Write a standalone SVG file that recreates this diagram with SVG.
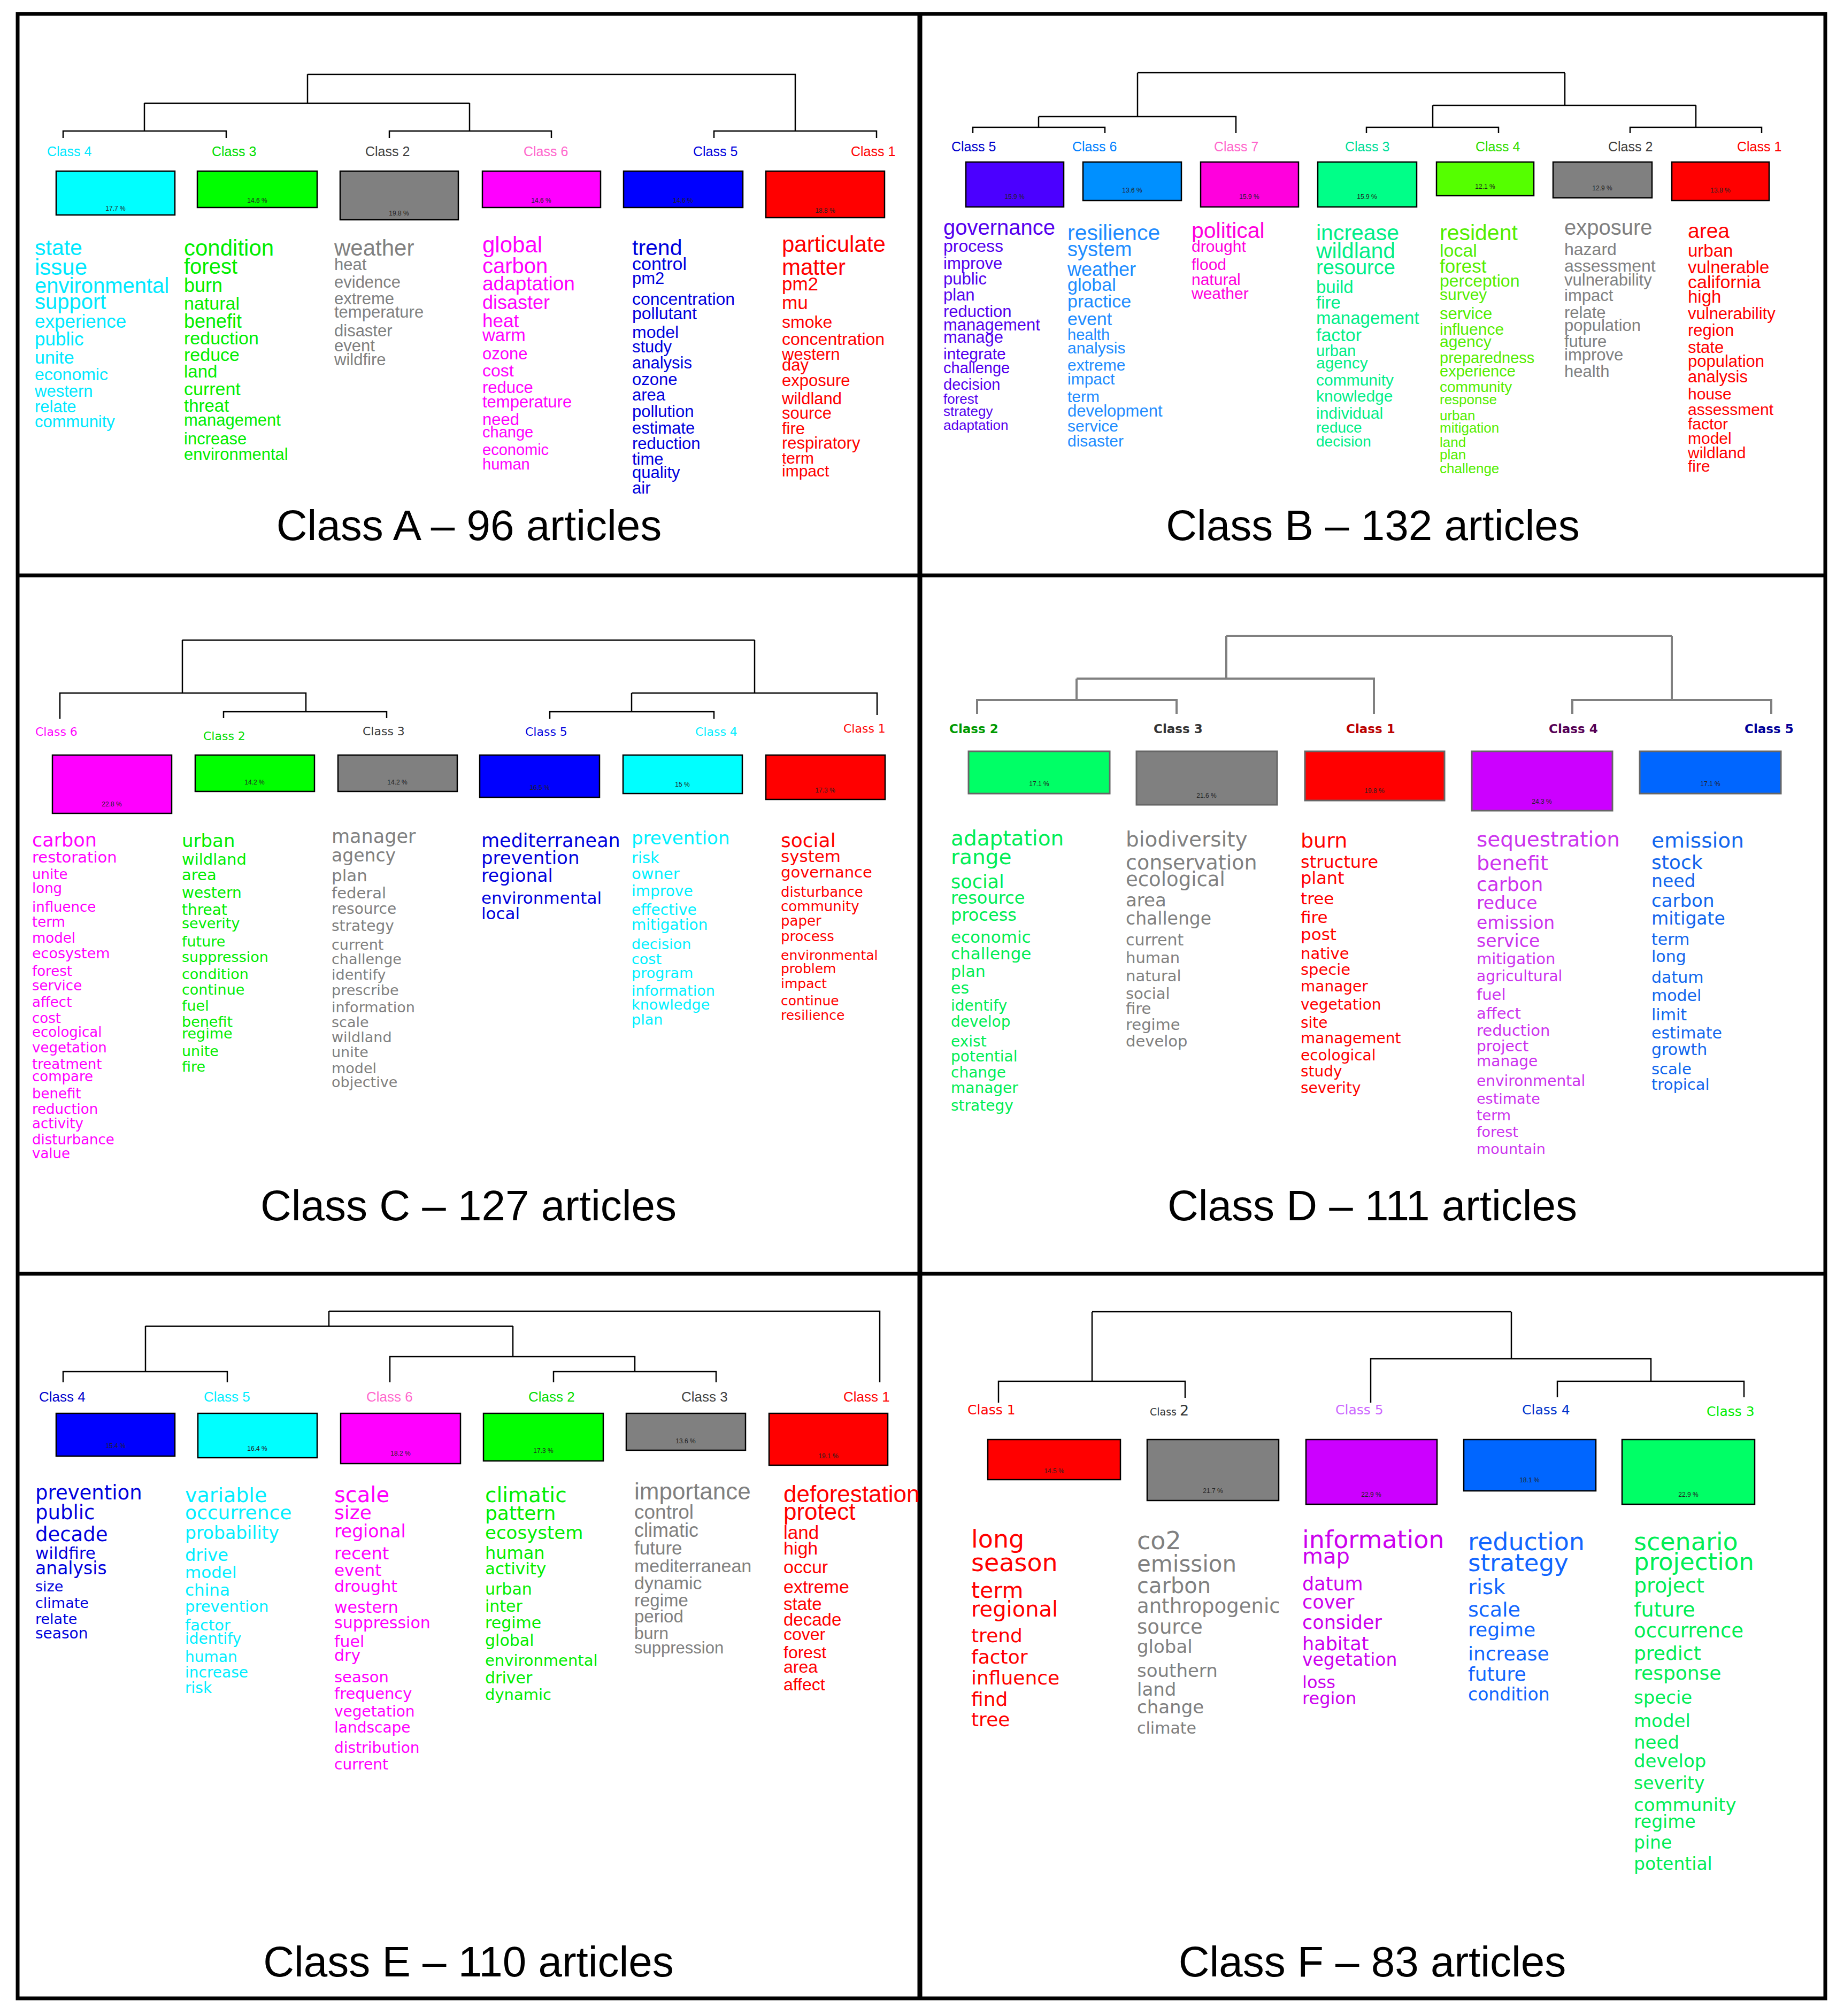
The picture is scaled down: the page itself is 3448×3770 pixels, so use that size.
<svg xmlns="http://www.w3.org/2000/svg" width="3448" height="3770" viewBox="0 0 3448 3770">
<style>
.a{font-family:"Liberation Sans",Arial,sans-serif}
.v{font-family:"DejaVu Sans",Verdana,sans-serif}
.vb{font-family:"DejaVu Sans",Verdana,sans-serif;font-weight:bold}
.ln{stroke:#000;stroke-width:2.5;fill:none}
.lnd{stroke:#808080;stroke-width:4;fill:none}
.bx{stroke:#000;stroke-width:2.5}
.bxd{stroke:#666;stroke-width:3}
.pct{font-family:"Liberation Sans",Arial,sans-serif;font-size:12px;fill:#222;text-anchor:middle}
.ttl{font-family:"Liberation Sans",Arial,sans-serif;font-size:80px;text-anchor:middle;fill:#000}
.lb{font-size:25px}
</style>
<rect width="3448" height="3770" fill="#fff"/>
<g id="frame" fill="none" stroke="#000" stroke-width="7">
<rect x="33" y="26" width="3380" height="3711"/>
<line x1="1720" y1="26" x2="1720" y2="3737" stroke-width="9"/>
<line x1="33" y1="1076" x2="3413" y2="1076"/>
<line x1="33" y1="2382" x2="3413" y2="2382"/>
</g>

<!-- ===== Panel A ===== -->
<g id="A-connectors" class="ln">
<path d="M575,139H1487V245M575,139V193M270,193H878M270,193V245M878,193V245M118,258V245H423V258M728,258V245H1031V258M1335,258V245H1639V258"/>
</g>
<g id="A-class4">
<text class="a lb" x="88" y="292" fill="#00E8FF">Class 4</text>
<rect class="bx" x="105" y="320" width="222" height="82" fill="#00FFFF"/>
<text class="pct" x="216" y="394">17.7 %</text>
<text class="a" fill="#00E8FF"><tspan x="65" y="477" font-size="41">state</tspan><tspan x="65" y="514" font-size="42">issue</tspan><tspan x="65" y="548" font-size="40">environmental</tspan><tspan x="65" y="578" font-size="40">support</tspan><tspan x="65" y="613" font-size="35">experience</tspan><tspan x="65" y="646" font-size="35">public</tspan><tspan x="65" y="680" font-size="34">unite</tspan><tspan x="65" y="711" font-size="32">economic</tspan><tspan x="65" y="742" font-size="31">western</tspan><tspan x="65" y="771" font-size="31">relate</tspan><tspan x="65" y="799" font-size="31">community</tspan></text>
</g>
<g id="A-class3">
<text class="a lb" x="396" y="292" fill="#00DD00">Class 3</text>
<rect class="bx" x="369" y="320" width="224" height="68" fill="#00FF00"/>
<text class="pct" x="481" y="379">14.6 %</text>
<text class="a" fill="#00EE00"><tspan x="344" y="478" font-size="42">condition</tspan><tspan x="344" y="512" font-size="40">forest</tspan><tspan x="344" y="546" font-size="36">burn</tspan><tspan x="344" y="579" font-size="34">natural</tspan><tspan x="344" y="613" font-size="36">benefit</tspan><tspan x="344" y="644" font-size="34">reduction</tspan><tspan x="344" y="675" font-size="34">reduce</tspan><tspan x="344" y="706" font-size="33">land</tspan><tspan x="344" y="739" font-size="34">current</tspan><tspan x="344" y="770" font-size="33">threat</tspan><tspan x="344" y="796" font-size="31">management</tspan><tspan x="344" y="831" font-size="31">increase</tspan><tspan x="344" y="860" font-size="31">environmental</tspan></text>
</g>
<g id="A-class2">
<text class="a lb" x="683" y="292" fill="#404040">Class 2</text>
<rect class="bx" x="636" y="320" width="221" height="91" fill="#808080"/>
<text class="pct" x="746" y="403">19.8 %</text>
<text class="a" fill="#808080"><tspan x="625" y="478" font-size="42">weather</tspan><tspan x="625" y="505" font-size="31">heat</tspan><tspan x="625" y="538" font-size="31">evidence</tspan><tspan x="625" y="569" font-size="31">extreme</tspan><tspan x="625" y="594" font-size="31">temperature</tspan><tspan x="625" y="629" font-size="31">disaster</tspan><tspan x="625" y="657" font-size="31">event</tspan><tspan x="625" y="683" font-size="31">wildfire</tspan></text>
</g>
<g id="A-class6">
<text class="a lb" x="979" y="292" fill="#FF66CC">Class 6</text>
<rect class="bx" x="902" y="320" width="221" height="68" fill="#FF00FF"/>
<text class="pct" x="1012" y="379">14.6 %</text>
<text class="a" fill="#FF00FF"><tspan x="902" y="472" font-size="42">global</tspan><tspan x="902" y="511" font-size="40">carbon</tspan><tspan x="902" y="543" font-size="37">adaptation</tspan><tspan x="902" y="578" font-size="36">disaster</tspan><tspan x="902" y="612" font-size="35">heat</tspan><tspan x="902" y="638" font-size="33">warm</tspan><tspan x="902" y="672" font-size="31">ozone</tspan><tspan x="902" y="704" font-size="32">cost</tspan><tspan x="902" y="735" font-size="31">reduce</tspan><tspan x="902" y="762" font-size="31">temperature</tspan><tspan x="902" y="795" font-size="31">need</tspan><tspan x="902" y="818" font-size="29">change</tspan><tspan x="902" y="851" font-size="29">economic</tspan><tspan x="902" y="878" font-size="29">human</tspan></text>
</g>
<g id="A-class5">
<text class="a lb" x="1296" y="292" fill="#0000DD">Class 5</text>
<rect class="bx" x="1166" y="320" width="223" height="68" fill="#0000FF"/>
<text class="pct" x="1277" y="379">14.6 %</text>
<text class="a" fill="#0000DD"><tspan x="1182" y="477" font-size="41">trend</tspan><tspan x="1182" y="505" font-size="34">control</tspan><tspan x="1182" y="531" font-size="31">pm2</tspan><tspan x="1182" y="570" font-size="32">concentration</tspan><tspan x="1182" y="597" font-size="32">pollutant</tspan><tspan x="1182" y="632" font-size="32">model</tspan><tspan x="1182" y="659" font-size="31">study</tspan><tspan x="1182" y="689" font-size="31">analysis</tspan><tspan x="1182" y="720" font-size="31">ozone</tspan><tspan x="1182" y="749" font-size="31">area</tspan><tspan x="1182" y="780" font-size="31">pollution</tspan><tspan x="1182" y="811" font-size="31">estimate</tspan><tspan x="1182" y="840" font-size="31">reduction</tspan><tspan x="1182" y="869" font-size="31">time</tspan><tspan x="1182" y="894" font-size="31">quality</tspan><tspan x="1182" y="923" font-size="31">air</tspan></text>
</g>
<g id="A-class1">
<text class="a lb" x="1591" y="292" fill="#FF0000">Class 1</text>
<rect class="bx" x="1432" y="320" width="222" height="87" fill="#FF0000"/>
<text class="pct" x="1543" y="398">18.8 %</text>
<text class="a" fill="#FF0000"><tspan x="1462" y="471" font-size="42">particulate</tspan><tspan x="1462" y="514" font-size="42">matter</tspan><tspan x="1462" y="543" font-size="35">pm2</tspan><tspan x="1462" y="578" font-size="35">mu</tspan><tspan x="1462" y="613" font-size="32">smoke</tspan><tspan x="1462" y="645" font-size="32">concentration</tspan><tspan x="1462" y="673" font-size="31">western</tspan><tspan x="1462" y="693" font-size="31">day</tspan><tspan x="1462" y="722" font-size="31">exposure</tspan><tspan x="1462" y="756" font-size="31">wildland</tspan><tspan x="1462" y="783" font-size="31">source</tspan><tspan x="1462" y="812" font-size="31">fire</tspan><tspan x="1462" y="839" font-size="31">respiratory</tspan><tspan x="1462" y="867" font-size="30">term</tspan><tspan x="1462" y="891" font-size="30">impact</tspan></text>
</g>
<text class="ttl" x="877" y="1010">Class A – 96 articles</text>

<!-- ===== Panel B ===== -->
<g id="B-connectors" class="ln">
<path d="M2127,136H2926M2127,136V218M1942,218H2311V249M1942,218V238M1819,249V238H2066V249M2926,136V197M2679,197H3171M2679,197V238M2555,249V238H2802V249M3171,197V238M3048,249V238H3294V249"/>
</g>
<g id="B-class5">
<text class="a lb" x="1779" y="283" fill="#0000CC">Class 5</text>
<rect class="bx" x="1806" y="303" width="183" height="84" fill="#4B00FF"/>
<text class="pct" x="1897" y="372">15.9 %</text>
<text class="a" fill="#5500EE"><tspan x="1764" y="439" font-size="40">governance</tspan><tspan x="1764" y="471" font-size="32">process</tspan><tspan x="1764" y="503" font-size="31">improve</tspan><tspan x="1764" y="532" font-size="31">public</tspan><tspan x="1764" y="562" font-size="31">plan</tspan><tspan x="1764" y="593" font-size="31">reduction</tspan><tspan x="1764" y="618" font-size="31">management</tspan><tspan x="1764" y="641" font-size="31">manage</tspan><tspan x="1764" y="672" font-size="30">integrate</tspan><tspan x="1764" y="698" font-size="29">challenge</tspan><tspan x="1764" y="729" font-size="29">decision</tspan><tspan x="1764" y="755" font-size="26">forest</tspan><tspan x="1764" y="778" font-size="26">strategy</tspan><tspan x="1764" y="804" font-size="26">adaptation</tspan></text>
</g>
<g id="B-class6">
<text class="a lb" x="2005" y="283" fill="#0080FF">Class 6</text>
<rect class="bx" x="2025" y="303" width="184" height="72" fill="#0090FF"/>
<text class="pct" x="2117" y="360">13.6 %</text>
<text class="a" fill="#1E8CFF"><tspan x="1996" y="449" font-size="41">resilience</tspan><tspan x="1996" y="479" font-size="38">system</tspan><tspan x="1996" y="516" font-size="36">weather</tspan><tspan x="1996" y="544" font-size="34">global</tspan><tspan x="1996" y="575" font-size="34">practice</tspan><tspan x="1996" y="608" font-size="34">event</tspan><tspan x="1996" y="636" font-size="29">health</tspan><tspan x="1996" y="661" font-size="30">analysis</tspan><tspan x="1996" y="693" font-size="30">extreme</tspan><tspan x="1996" y="719" font-size="30">impact</tspan><tspan x="1996" y="752" font-size="30">term</tspan><tspan x="1996" y="779" font-size="31">development</tspan><tspan x="1996" y="807" font-size="30">service</tspan><tspan x="1996" y="835" font-size="30">disaster</tspan></text>
</g>
<g id="B-class7">
<text class="a lb" x="2270" y="283" fill="#FF66CC">Class 7</text>
<rect class="bx" x="2245" y="303" width="183" height="84" fill="#FF00DD"/>
<text class="pct" x="2336" y="372">15.9 %</text>
<text class="a" fill="#FF00DD"><tspan x="2228" y="445" font-size="41">political</tspan><tspan x="2228" y="471" font-size="30">drought</tspan><tspan x="2228" y="505" font-size="30">flood</tspan><tspan x="2228" y="533" font-size="30">natural</tspan><tspan x="2228" y="559" font-size="30">weather</tspan></text>
</g>
<g id="B-class3">
<text class="a lb" x="2515" y="283" fill="#00DD99">Class 3</text>
<rect class="bx" x="2464" y="303" width="185" height="84" fill="#00FF88"/>
<text class="pct" x="2556" y="372">15.9 %</text>
<text class="a" fill="#00EE88"><tspan x="2461" y="449" font-size="41">increase</tspan><tspan x="2461" y="483" font-size="41">wildland</tspan><tspan x="2461" y="513" font-size="38">resource</tspan><tspan x="2461" y="548" font-size="33">build</tspan><tspan x="2461" y="577" font-size="33">fire</tspan><tspan x="2461" y="606" font-size="33">management</tspan><tspan x="2461" y="638" font-size="34">factor</tspan><tspan x="2461" y="666" font-size="29">urban</tspan><tspan x="2461" y="689" font-size="30">agency</tspan><tspan x="2461" y="721" font-size="30">community</tspan><tspan x="2461" y="751" font-size="30">knowledge</tspan><tspan x="2461" y="783" font-size="30">individual</tspan><tspan x="2461" y="809" font-size="28">reduce</tspan><tspan x="2461" y="835" font-size="28">decision</tspan></text>
</g>
<g id="B-class4">
<text class="a lb" x="2759" y="283" fill="#33DD00">Class 4</text>
<rect class="bx" x="2686" y="303" width="182" height="63" fill="#55FF00"/>
<text class="pct" x="2777" y="353">12.1 %</text>
<text class="a" fill="#55EE00"><tspan x="2692" y="449" font-size="41">resident</tspan><tspan x="2692" y="480" font-size="34">local</tspan><tspan x="2692" y="510" font-size="35">forest</tspan><tspan x="2692" y="536" font-size="32">perception</tspan><tspan x="2692" y="561" font-size="30">survey</tspan><tspan x="2692" y="597" font-size="31">service</tspan><tspan x="2692" y="626" font-size="30">influence</tspan><tspan x="2692" y="649" font-size="30">agency</tspan><tspan x="2692" y="679" font-size="29">preparedness</tspan><tspan x="2692" y="704" font-size="29">experience</tspan><tspan x="2692" y="733" font-size="28">community</tspan><tspan x="2692" y="756" font-size="26">response</tspan><tspan x="2692" y="786" font-size="26">urban</tspan><tspan x="2692" y="809" font-size="26">mitigation</tspan><tspan x="2692" y="836" font-size="26">land</tspan><tspan x="2692" y="859" font-size="26">plan</tspan><tspan x="2692" y="885" font-size="26">challenge</tspan></text>
</g>
<g id="B-class2">
<text class="a lb" x="3007" y="283" fill="#404040">Class 2</text>
<rect class="bx" x="2904" y="303" width="185" height="67" fill="#808080"/>
<text class="pct" x="2996" y="356">12.9 %</text>
<text class="a" fill="#808080"><tspan x="2925" y="439" font-size="40">exposure</tspan><tspan x="2925" y="477" font-size="32">hazard</tspan><tspan x="2925" y="508" font-size="32">assessment</tspan><tspan x="2925" y="534" font-size="31">vulnerability</tspan><tspan x="2925" y="563" font-size="31">impact</tspan><tspan x="2925" y="595" font-size="31">relate</tspan><tspan x="2925" y="619" font-size="31">population</tspan><tspan x="2925" y="649" font-size="31">future</tspan><tspan x="2925" y="674" font-size="31">improve</tspan><tspan x="2925" y="705" font-size="31">health</tspan></text>
</g>
<g id="B-class1">
<text class="a lb" x="3248" y="283" fill="#FF0000">Class 1</text>
<rect class="bx" x="3126" y="303" width="182" height="72" fill="#FF0000"/>
<text class="pct" x="3217" y="360">13.8 %</text>
<text class="a" fill="#FF0000"><tspan x="3156" y="445" font-size="39">area</tspan><tspan x="3156" y="480" font-size="33">urban</tspan><tspan x="3156" y="511" font-size="33">vulnerable</tspan><tspan x="3156" y="539" font-size="34">california</tspan><tspan x="3156" y="566" font-size="33">high</tspan><tspan x="3156" y="597" font-size="31">vulnerability</tspan><tspan x="3156" y="628" font-size="31">region</tspan><tspan x="3156" y="660" font-size="31">state</tspan><tspan x="3156" y="686" font-size="31">population</tspan><tspan x="3156" y="715" font-size="31">analysis</tspan><tspan x="3156" y="747" font-size="30">house</tspan><tspan x="3156" y="776" font-size="30">assessment</tspan><tspan x="3156" y="803" font-size="30">factor</tspan><tspan x="3156" y="830" font-size="30">model</tspan><tspan x="3156" y="857" font-size="30">wildland</tspan><tspan x="3156" y="882" font-size="30">fire</tspan></text>
</g>
<text class="ttl" x="2567" y="1010">Class B – 132 articles</text>

<!-- ===== Panel C ===== -->
<g id="C-connectors" class="ln">
<path d="M341,1197H1411M341,1197V1296M112,1344V1296H572V1331M418,1343V1331H723V1343M1411,1197V1296M1181,1296H1640V1337M1181,1296V1331M1028,1344V1331H1335V1344"/>
</g>
<g id="C-class6">
<text class="v" x="66" y="1376" font-size="22" fill="#FF00FF">Class 6</text>
<rect class="bx" x="98" y="1412" width="223" height="109" fill="#FF00FF"/>
<text class="pct" x="209" y="1508">22.8 %</text>
<text class="v" fill="#FF00FF"><tspan x="60" y="1583" font-size="35">carbon</tspan><tspan x="60" y="1613" font-size="29">restoration</tspan><tspan x="60" y="1644" font-size="26">unite</tspan><tspan x="60" y="1670" font-size="26">long</tspan><tspan x="60" y="1705" font-size="26">influence</tspan><tspan x="60" y="1733" font-size="26">term</tspan><tspan x="60" y="1763" font-size="26">model</tspan><tspan x="60" y="1792" font-size="27">ecosystem</tspan><tspan x="60" y="1825" font-size="26">forest</tspan><tspan x="60" y="1852" font-size="26">service</tspan><tspan x="60" y="1883" font-size="26">affect</tspan><tspan x="60" y="1913" font-size="26">cost</tspan><tspan x="60" y="1939" font-size="26">ecological</tspan><tspan x="60" y="1968" font-size="26">vegetation</tspan><tspan x="60" y="1999" font-size="26">treatment</tspan><tspan x="60" y="2022" font-size="26">compare</tspan><tspan x="60" y="2054" font-size="26">benefit</tspan><tspan x="60" y="2083" font-size="26">reduction</tspan><tspan x="60" y="2110" font-size="26">activity</tspan><tspan x="60" y="2140" font-size="26">disturbance</tspan><tspan x="60" y="2166" font-size="26">value</tspan></text>
</g>
<g id="C-class2">
<text class="v" x="380" y="1384" font-size="22" fill="#00DD00">Class 2</text>
<rect class="bx" x="365" y="1412" width="223" height="68" fill="#00FF00"/>
<text class="pct" x="476" y="1467">14.2 %</text>
<text class="v" fill="#00EE00"><tspan x="340" y="1584" font-size="34">urban</tspan><tspan x="340" y="1617" font-size="29">wildland</tspan><tspan x="340" y="1646" font-size="29">area</tspan><tspan x="340" y="1679" font-size="28">western</tspan><tspan x="340" y="1711" font-size="28">threat</tspan><tspan x="340" y="1736" font-size="27">severity</tspan><tspan x="340" y="1770" font-size="27">future</tspan><tspan x="340" y="1799" font-size="27">suppression</tspan><tspan x="340" y="1831" font-size="27">condition</tspan><tspan x="340" y="1860" font-size="27">continue</tspan><tspan x="340" y="1890" font-size="27">fuel</tspan><tspan x="340" y="1920" font-size="27">benefit</tspan><tspan x="340" y="1942" font-size="27">regime</tspan><tspan x="340" y="1975" font-size="27">unite</tspan><tspan x="340" y="2004" font-size="27">fire</tspan></text>
</g>
<g id="C-class3">
<text class="v" x="678" y="1375" font-size="22" fill="#404040">Class 3</text>
<rect class="bx" x="632" y="1412" width="223" height="68" fill="#808080"/>
<text class="pct" x="743" y="1467">14.2 %</text>
<text class="v" fill="#808080"><tspan x="620" y="1576" font-size="35">manager</tspan><tspan x="620" y="1611" font-size="33">agency</tspan><tspan x="620" y="1648" font-size="31">plan</tspan><tspan x="620" y="1680" font-size="29">federal</tspan><tspan x="620" y="1709" font-size="28">resource</tspan><tspan x="620" y="1741" font-size="28">strategy</tspan><tspan x="620" y="1776" font-size="27">current</tspan><tspan x="620" y="1803" font-size="27">challenge</tspan><tspan x="620" y="1832" font-size="27">identify</tspan><tspan x="620" y="1861" font-size="27">prescribe</tspan><tspan x="620" y="1893" font-size="27">information</tspan><tspan x="620" y="1921" font-size="27">scale</tspan><tspan x="620" y="1949" font-size="27">wildland</tspan><tspan x="620" y="1977" font-size="27">unite</tspan><tspan x="620" y="2007" font-size="27">model</tspan><tspan x="620" y="2033" font-size="27">objective</tspan></text>
</g>
<g id="C-class5">
<text class="v" x="982" y="1376" font-size="22" fill="#0000DD">Class 5</text>
<rect class="bx" x="897" y="1412" width="224" height="79" fill="#0000FF"/>
<text class="pct" x="1009" y="1477">16.5 %</text>
<text class="v" fill="#0000DD"><tspan x="900" y="1584" font-size="35">mediterranean</tspan><tspan x="900" y="1616" font-size="34">prevention</tspan><tspan x="900" y="1649" font-size="33">regional</tspan><tspan x="900" y="1690" font-size="31">environmental</tspan><tspan x="900" y="1719" font-size="31">local</tspan></text>
</g>
<g id="C-class4">
<text class="v" x="1300" y="1376" font-size="22" fill="#00EEFF">Class 4</text>
<rect class="bx" x="1165" y="1412" width="223" height="72" fill="#00FFFF"/>
<text class="pct" x="1276" y="1471">15 %</text>
<text class="v" fill="#00F0FF"><tspan x="1181" y="1579" font-size="34">prevention</tspan><tspan x="1181" y="1614" font-size="29">risk</tspan><tspan x="1181" y="1644" font-size="29">owner</tspan><tspan x="1181" y="1676" font-size="28">improve</tspan><tspan x="1181" y="1711" font-size="28">effective</tspan><tspan x="1181" y="1739" font-size="28">mitigation</tspan><tspan x="1181" y="1775" font-size="27">decision</tspan><tspan x="1181" y="1803" font-size="27">cost</tspan><tspan x="1181" y="1829" font-size="27">program</tspan><tspan x="1181" y="1862" font-size="27">information</tspan><tspan x="1181" y="1888" font-size="27">knowledge</tspan><tspan x="1181" y="1916" font-size="27">plan</tspan></text>
</g>
<g id="C-class1">
<text class="v" x="1577" y="1370" font-size="22" fill="#FF0000">Class 1</text>
<rect class="bx" x="1432" y="1412" width="223" height="83" fill="#FF0000"/>
<text class="pct" x="1543" y="1482">17.3 %</text>
<text class="v" fill="#FF0000"><tspan x="1460" y="1584" font-size="36">social</tspan><tspan x="1460" y="1612" font-size="31">system</tspan><tspan x="1460" y="1641" font-size="29">governance</tspan><tspan x="1460" y="1677" font-size="26">disturbance</tspan><tspan x="1460" y="1704" font-size="26">community</tspan><tspan x="1460" y="1731" font-size="26">paper</tspan><tspan x="1460" y="1760" font-size="26">process</tspan><tspan x="1460" y="1795" font-size="25">environmental</tspan><tspan x="1460" y="1820" font-size="25">problem</tspan><tspan x="1460" y="1848" font-size="25">impact</tspan><tspan x="1460" y="1880" font-size="25">continue</tspan><tspan x="1460" y="1907" font-size="25">resilience</tspan></text>
</g>
<text class="ttl" x="876" y="2282">Class C – 127 articles</text>

<!-- ===== Panel D ===== -->
<g id="D-connectors" class="lnd">
<path d="M2293,1189H3126M2293,1189V1269M2013,1269H2569V1335M2013,1269V1309M1827,1335V1309H2200V1335M3126,1189V1309M2940,1335V1309H3312V1335"/>
</g>
<g id="D-class2">
<text class="vb" x="1775" y="1371" font-size="23" fill="#009900">Class 2</text>
<rect class="bxd" x="1811" y="1405" width="264" height="79" fill="#00FF66"/>
<text class="pct" x="1943" y="1470">17.1 %</text>
<text class="v" fill="#00EE55"><tspan x="1778" y="1581" font-size="39">adaptation</tspan><tspan x="1778" y="1616" font-size="39">range</tspan><tspan x="1778" y="1661" font-size="35">social</tspan><tspan x="1778" y="1690" font-size="32">resource</tspan><tspan x="1778" y="1722" font-size="32">process</tspan><tspan x="1778" y="1763" font-size="31">economic</tspan><tspan x="1778" y="1794" font-size="31">challenge</tspan><tspan x="1778" y="1827" font-size="30">plan</tspan><tspan x="1778" y="1858" font-size="30">es</tspan><tspan x="1778" y="1890" font-size="28">identify</tspan><tspan x="1778" y="1920" font-size="28">develop</tspan><tspan x="1778" y="1957" font-size="28">exist</tspan><tspan x="1778" y="1985" font-size="28">potential</tspan><tspan x="1778" y="2015" font-size="28">change</tspan><tspan x="1778" y="2044" font-size="28">manager</tspan><tspan x="1778" y="2077" font-size="28">strategy</tspan></text>
</g>
<g id="D-class3">
<text class="vb" x="2157" y="1371" font-size="23" fill="#333333">Class 3</text>
<rect class="bxd" x="2125" y="1405" width="263" height="100" fill="#808080"/>
<text class="pct" x="2256" y="1492">21.6 %</text>
<text class="v" fill="#808080"><tspan x="2105" y="1583" font-size="39">biodiversity</tspan><tspan x="2105" y="1626" font-size="38">conservation</tspan><tspan x="2105" y="1657" font-size="37">ecological</tspan><tspan x="2105" y="1695" font-size="34">area</tspan><tspan x="2105" y="1729" font-size="33">challenge</tspan><tspan x="2105" y="1768" font-size="30">current</tspan><tspan x="2105" y="1801" font-size="29">human</tspan><tspan x="2105" y="1835" font-size="29">natural</tspan><tspan x="2105" y="1868" font-size="29">social</tspan><tspan x="2105" y="1896" font-size="29">fire</tspan><tspan x="2105" y="1926" font-size="29">regime</tspan><tspan x="2105" y="1957" font-size="29">develop</tspan></text>
</g>
<g id="D-class1">
<text class="vb" x="2517" y="1371" font-size="23" fill="#BB0000">Class 1</text>
<rect class="bxd" x="2440" y="1405" width="261" height="92" fill="#FF0000"/>
<text class="pct" x="2570" y="1483">19.8 %</text>
<text class="v" fill="#FF0000"><tspan x="2432" y="1585" font-size="38">burn</tspan><tspan x="2432" y="1623" font-size="32">structure</tspan><tspan x="2432" y="1653" font-size="32">plant</tspan><tspan x="2432" y="1691" font-size="31">tree</tspan><tspan x="2432" y="1726" font-size="31">fire</tspan><tspan x="2432" y="1758" font-size="31">post</tspan><tspan x="2432" y="1793" font-size="29">native</tspan><tspan x="2432" y="1823" font-size="29">specie</tspan><tspan x="2432" y="1854" font-size="28">manager</tspan><tspan x="2432" y="1888" font-size="28">vegetation</tspan><tspan x="2432" y="1922" font-size="28">site</tspan><tspan x="2432" y="1951" font-size="28">management</tspan><tspan x="2432" y="1983" font-size="28">ecological</tspan><tspan x="2432" y="2013" font-size="28">study</tspan><tspan x="2432" y="2044" font-size="28">severity</tspan></text>
</g>
<g id="D-class4">
<text class="vb" x="2896" y="1371" font-size="23" fill="#550055">Class 4</text>
<rect class="bxd" x="2752" y="1405" width="263" height="111" fill="#CC00FF"/>
<text class="pct" x="2883" y="1503">24.3 %</text>
<text class="v" fill="#CC33EE"><tspan x="2761" y="1583" font-size="39">sequestration</tspan><tspan x="2761" y="1627" font-size="38">benefit</tspan><tspan x="2761" y="1666" font-size="36">carbon</tspan><tspan x="2761" y="1700" font-size="33">reduce</tspan><tspan x="2761" y="1737" font-size="33">emission</tspan><tspan x="2761" y="1771" font-size="33">service</tspan><tspan x="2761" y="1803" font-size="29">mitigation</tspan><tspan x="2761" y="1835" font-size="28">agricultural</tspan><tspan x="2761" y="1870" font-size="29">fuel</tspan><tspan x="2761" y="1905" font-size="29">affect</tspan><tspan x="2761" y="1937" font-size="29">reduction</tspan><tspan x="2761" y="1966" font-size="28">project</tspan><tspan x="2761" y="1994" font-size="28">manage</tspan><tspan x="2761" y="2031" font-size="28">environmental</tspan><tspan x="2761" y="2064" font-size="27">estimate</tspan><tspan x="2761" y="2095" font-size="27">term</tspan><tspan x="2761" y="2126" font-size="27">forest</tspan><tspan x="2761" y="2158" font-size="27">mountain</tspan></text>
</g>
<g id="D-class5">
<text class="vb" x="3262" y="1371" font-size="23" fill="#000099">Class 5</text>
<rect class="bxd" x="3066" y="1405" width="264" height="79" fill="#0066FF"/>
<text class="pct" x="3198" y="1470">17.1 %</text>
<text class="v" fill="#1166EE"><tspan x="3088" y="1585" font-size="39">emission</tspan><tspan x="3088" y="1625" font-size="36">stock</tspan><tspan x="3088" y="1659" font-size="33">need</tspan><tspan x="3088" y="1696" font-size="34">carbon</tspan><tspan x="3088" y="1729" font-size="33">mitigate</tspan><tspan x="3088" y="1767" font-size="30">term</tspan><tspan x="3088" y="1799" font-size="30">long</tspan><tspan x="3088" y="1838" font-size="30">datum</tspan><tspan x="3088" y="1872" font-size="30">model</tspan><tspan x="3088" y="1908" font-size="30">limit</tspan><tspan x="3088" y="1942" font-size="30">estimate</tspan><tspan x="3088" y="1973" font-size="30">growth</tspan><tspan x="3088" y="2009" font-size="29">scale</tspan><tspan x="3088" y="2038" font-size="29">tropical</tspan></text>
</g>
<text class="ttl" x="2566" y="2282">Class D – 111 articles</text>

<!-- ===== Panel E ===== -->
<g id="E-connectors" class="ln">
<path d="M615,2452H1645V2585M615,2452V2480M272,2480H959M272,2480V2565M118,2585V2565H425V2585M959,2480V2537M729,2585V2537H1187V2565M1035,2585V2565H1339V2585"/>
</g>
<g id="E-class4">
<text class="a" x="73" y="2621" font-size="26" fill="#0000CC">Class 4</text>
<rect class="bx" x="105" y="2643" width="222" height="80" fill="#0000FF"/>
<text class="pct" x="216" y="2708">15.4 %</text>
<text class="v" fill="#0000DD"><tspan x="66" y="2804" font-size="37">prevention</tspan><tspan x="66" y="2841" font-size="37">public</tspan><tspan x="66" y="2882" font-size="37">decade</tspan><tspan x="66" y="2915" font-size="31">wildfire</tspan><tspan x="66" y="2944" font-size="33">analysis</tspan><tspan x="66" y="2976" font-size="27">size</tspan><tspan x="66" y="3007" font-size="27">climate</tspan><tspan x="66" y="3037" font-size="27">relate</tspan><tspan x="66" y="3064" font-size="28">season</tspan></text>
</g>
<g id="E-class5">
<text class="a" x="381" y="2621" font-size="26" fill="#00EEFF">Class 5</text>
<rect class="bx" x="370" y="2643" width="223" height="83" fill="#00FFFF"/>
<text class="pct" x="481" y="2713">16.4 %</text>
<text class="v" fill="#00EEFF"><tspan x="346" y="2809" font-size="38">variable</tspan><tspan x="346" y="2841" font-size="36">occurrence</tspan><tspan x="346" y="2878" font-size="33">probability</tspan><tspan x="346" y="2919" font-size="32">drive</tspan><tspan x="346" y="2951" font-size="31">model</tspan><tspan x="346" y="2984" font-size="31">china</tspan><tspan x="346" y="3014" font-size="29">prevention</tspan><tspan x="346" y="3049" font-size="29">factor</tspan><tspan x="346" y="3074" font-size="28">identify</tspan><tspan x="346" y="3108" font-size="28">human</tspan><tspan x="346" y="3137" font-size="28">increase</tspan><tspan x="346" y="3166" font-size="28">risk</tspan></text>
</g>
<g id="E-class6">
<text class="a" x="685" y="2621" font-size="26" fill="#FF66CC">Class 6</text>
<rect class="bx" x="637" y="2643" width="224" height="94" fill="#FF00FF"/>
<text class="pct" x="749" y="2722">18.2 %</text>
<text class="v" fill="#FF00FF"><tspan x="625" y="2809" font-size="40">scale</tspan><tspan x="625" y="2841" font-size="36">size</tspan><tspan x="625" y="2875" font-size="33">regional</tspan><tspan x="625" y="2916" font-size="32">recent</tspan><tspan x="625" y="2947" font-size="31">event</tspan><tspan x="625" y="2977" font-size="30">drought</tspan><tspan x="625" y="3016" font-size="30">western</tspan><tspan x="625" y="3045" font-size="30">suppression</tspan><tspan x="625" y="3080" font-size="30">fuel</tspan><tspan x="625" y="3106" font-size="30">dry</tspan><tspan x="625" y="3146" font-size="29">season</tspan><tspan x="625" y="3177" font-size="29">frequency</tspan><tspan x="625" y="3210" font-size="28">vegetation</tspan><tspan x="625" y="3240" font-size="28">landscape</tspan><tspan x="625" y="3278" font-size="28">distribution</tspan><tspan x="625" y="3309" font-size="28">current</tspan></text>
</g>
<g id="E-class2">
<text class="a" x="988" y="2621" font-size="26" fill="#00DD00">Class 2</text>
<rect class="bx" x="904" y="2643" width="224" height="89" fill="#00FF00"/>
<text class="pct" x="1016" y="2717">17.3 %</text>
<text class="v" fill="#00EE00"><tspan x="907" y="2809" font-size="39">climatic</tspan><tspan x="907" y="2842" font-size="36">pattern</tspan><tspan x="907" y="2878" font-size="34">ecosystem</tspan><tspan x="907" y="2915" font-size="32">human</tspan><tspan x="907" y="2944" font-size="31">activity</tspan><tspan x="907" y="2982" font-size="30">urban</tspan><tspan x="907" y="3014" font-size="30">inter</tspan><tspan x="907" y="3045" font-size="30">regime</tspan><tspan x="907" y="3078" font-size="30">global</tspan><tspan x="907" y="3115" font-size="29">environmental</tspan><tspan x="907" y="3148" font-size="30">driver</tspan><tspan x="907" y="3179" font-size="29">dynamic</tspan></text>
</g>
<g id="E-class3">
<text class="a" x="1274" y="2621" font-size="26" fill="#404040">Class 3</text>
<rect class="bx" x="1171" y="2643" width="223" height="69" fill="#808080"/>
<text class="pct" x="1282" y="2699">13.6 %</text>
<text class="a" fill="#808080"><tspan x="1186" y="2804" font-size="44">importance</tspan><tspan x="1186" y="2840" font-size="37">control</tspan><tspan x="1186" y="2874" font-size="36">climatic</tspan><tspan x="1186" y="2907" font-size="35">future</tspan><tspan x="1186" y="2940" font-size="34">mediterranean</tspan><tspan x="1186" y="2972" font-size="34">dynamic</tspan><tspan x="1186" y="3004" font-size="33">regime</tspan><tspan x="1186" y="3034" font-size="33">period</tspan><tspan x="1186" y="3065" font-size="32">burn</tspan><tspan x="1186" y="3092" font-size="31">suppression</tspan></text>
</g>
<g id="E-class1">
<text class="a" x="1577" y="2621" font-size="26" fill="#FF0000">Class 1</text>
<rect class="bx" x="1438" y="2643" width="222" height="97" fill="#FF0000"/>
<text class="pct" x="1549" y="2727">19.1 %</text>
<text class="a" fill="#FF0000"><tspan x="1465" y="2809" font-size="44">deforestation</tspan><tspan x="1465" y="2842" font-size="44">protect</tspan><tspan x="1465" y="2878" font-size="35">land</tspan><tspan x="1465" y="2907" font-size="34">high</tspan><tspan x="1465" y="2942" font-size="34">occur</tspan><tspan x="1465" y="2979" font-size="34">extreme</tspan><tspan x="1465" y="3011" font-size="33">state</tspan><tspan x="1465" y="3040" font-size="33">decade</tspan><tspan x="1465" y="3067" font-size="32">cover</tspan><tspan x="1465" y="3101" font-size="32">forest</tspan><tspan x="1465" y="3128" font-size="32">area</tspan><tspan x="1465" y="3161" font-size="32">affect</tspan></text>
</g>
<text class="ttl" x="876" y="3696">Class E – 110 articles</text>

<!-- ===== Panel F ===== -->
<g id="F-connectors" class="ln">
<path d="M2042,2453H2826M2042,2453V2583M1867,2623V2583H2216V2614M2826,2453V2541M2563,2623V2541H3087V2583M2912,2613V2583H3261V2613"/>
</g>
<g id="F-class1">
<text class="v" x="1809" y="2645" font-size="25" fill="#FF0000">Class 1</text>
<rect class="bx" x="1847" y="2692" width="248" height="75" fill="#FF0000"/>
<text class="pct" x="1971" y="2755">14.5 %</text>
<text class="v" fill="#FF0000"><tspan x="1816" y="2894" font-size="46">long</tspan><tspan x="1816" y="2938" font-size="46">season</tspan><tspan x="1816" y="2988" font-size="41">term</tspan><tspan x="1816" y="3023" font-size="40">regional</tspan><tspan x="1816" y="3071" font-size="36">trend</tspan><tspan x="1816" y="3111" font-size="36">factor</tspan><tspan x="1816" y="3150" font-size="36">influence</tspan><tspan x="1816" y="3190" font-size="36">find</tspan><tspan x="1816" y="3228" font-size="36">tree</tspan></text>
</g>
<g id="F-class2">
<text class="v" x="2150" y="2647" fill="#333333"><tspan font-size="19">Class </tspan><tspan font-size="27">2</tspan></text>
<rect class="bx" x="2145" y="2692" width="246" height="114" fill="#808080"/>
<text class="pct" x="2268" y="2792">21.7 %</text>
<text class="v" fill="#808080"><tspan x="2126" y="2897" font-size="46">co2</tspan><tspan x="2126" y="2939" font-size="42">emission</tspan><tspan x="2126" y="2979" font-size="40">carbon</tspan><tspan x="2126" y="3016" font-size="37">anthropogenic</tspan><tspan x="2126" y="3055" font-size="37">source</tspan><tspan x="2126" y="3091" font-size="34">global</tspan><tspan x="2126" y="3136" font-size="34">southern</tspan><tspan x="2126" y="3171" font-size="34">land</tspan><tspan x="2126" y="3204" font-size="34">change</tspan><tspan x="2126" y="3242" font-size="30">climate</tspan></text>
</g>
<g id="F-class5">
<text class="v" x="2497" y="2645" font-size="25" fill="#CC66FF">Class 5</text>
<rect class="bx" x="2442" y="2692" width="245" height="121" fill="#CC00FF"/>
<text class="pct" x="2564" y="2799">22.9 %</text>
<text class="v" fill="#CC00EE"><tspan x="2435" y="2895" font-size="46">information</tspan><tspan x="2435" y="2924" font-size="40">map</tspan><tspan x="2435" y="2974" font-size="35">datum</tspan><tspan x="2435" y="3008" font-size="35">cover</tspan><tspan x="2435" y="3046" font-size="35">consider</tspan><tspan x="2435" y="3086" font-size="35">habitat</tspan><tspan x="2435" y="3115" font-size="33">vegetation</tspan><tspan x="2435" y="3157" font-size="32">loss</tspan><tspan x="2435" y="3187" font-size="32">region</tspan></text>
</g>
<g id="F-class4">
<text class="v" x="2846" y="2645" font-size="25" fill="#0033CC">Class 4</text>
<rect class="bx" x="2737" y="2692" width="247" height="96" fill="#0066FF"/>
<text class="pct" x="2860" y="2772">18.1 %</text>
<text class="v" fill="#1166FF"><tspan x="2745" y="2899" font-size="46">reduction</tspan><tspan x="2745" y="2938" font-size="45">strategy</tspan><tspan x="2745" y="2981" font-size="39">risk</tspan><tspan x="2745" y="3023" font-size="38">scale</tspan><tspan x="2745" y="3060" font-size="36">regime</tspan><tspan x="2745" y="3105" font-size="36">increase</tspan><tspan x="2745" y="3143" font-size="36">future</tspan><tspan x="2745" y="3180" font-size="33">condition</tspan></text>
</g>
<g id="F-class3">
<text class="v" x="3191" y="2648" font-size="25" fill="#00EE00">Class 3</text>
<rect class="bx" x="3033" y="2692" width="248" height="121" fill="#00FF66"/>
<text class="pct" x="3157" y="2799">22.9 %</text>
<text class="v" fill="#00EE55"><tspan x="3055" y="2899" font-size="46">scenario</tspan><tspan x="3055" y="2936" font-size="45">projection</tspan><tspan x="3055" y="2978" font-size="38">project</tspan><tspan x="3055" y="3023" font-size="38">future</tspan><tspan x="3055" y="3062" font-size="37">occurrence</tspan><tspan x="3055" y="3104" font-size="36">predict</tspan><tspan x="3055" y="3141" font-size="36">response</tspan><tspan x="3055" y="3186" font-size="34">specie</tspan><tspan x="3055" y="3230" font-size="34">model</tspan><tspan x="3055" y="3270" font-size="34">need</tspan><tspan x="3055" y="3305" font-size="34">develop</tspan><tspan x="3055" y="3346" font-size="33">severity</tspan><tspan x="3055" y="3387" font-size="34">community</tspan><tspan x="3055" y="3418" font-size="33">regime</tspan><tspan x="3055" y="3457" font-size="33">pine</tspan><tspan x="3055" y="3497" font-size="33">potential</tspan></text>
</g>
<text class="ttl" x="2566" y="3696">Class F – 83 articles</text>
</svg>
